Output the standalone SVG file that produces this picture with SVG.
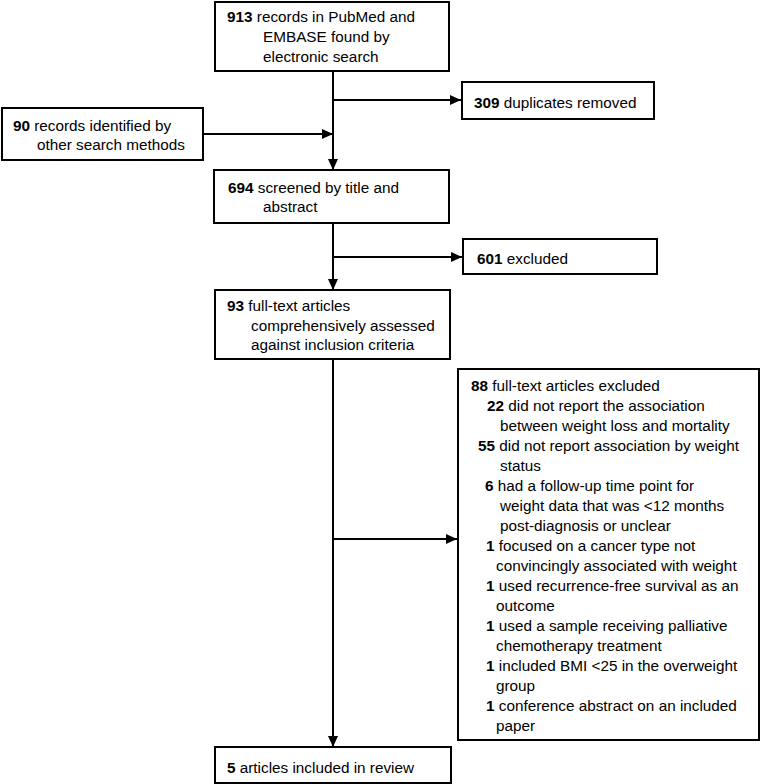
<svg xmlns="http://www.w3.org/2000/svg" width="762" height="784" viewBox="0 0 762 784">
<defs>
<style>
.box{fill:#fff;stroke:#000;stroke-width:2}
text{font-family:"Liberation Sans",Arial,sans-serif;font-size:15.3px;fill:#000}
.b{font-weight:bold}
.con{stroke:#000;stroke-width:2;fill:none}
</style>
<marker id="ah" markerUnits="userSpaceOnUse" markerWidth="12" markerHeight="10" refX="11" refY="5" orient="auto">
<path d="M0,0 L11,5 L0,10 Z" fill="#000"/>
</marker>
</defs>
<rect width="762" height="784" fill="#fff"/>
<g id="connectors">
<line class="con" x1="333" y1="71" x2="333" y2="170" marker-end="url(#ah)"/>
<line class="con" x1="333" y1="100" x2="461" y2="100" marker-end="url(#ah)"/>
<line class="con" x1="203" y1="134" x2="333" y2="134" marker-end="url(#ah)"/>
<line class="con" x1="333" y1="223" x2="333" y2="290" marker-end="url(#ah)"/>
<line class="con" x1="333" y1="257" x2="462" y2="257" marker-end="url(#ah)"/>
<line class="con" x1="333" y1="359" x2="333" y2="747" marker-end="url(#ah)"/>
<line class="con" x1="333" y1="539" x2="457" y2="539" marker-end="url(#ah)"/>
</g>
<g id="n913">
<rect class="box" x="215" y="2" width="234" height="69"/>
<text x="227" y="22"><tspan class="b">913</tspan> records in PubMed and</text>
<text x="263" y="42">EMBASE found by</text>
<text x="263" y="62">electronic search</text>
</g>
<g id="n309">
<rect class="box" x="462" y="82" width="192" height="37"/>
<text x="474" y="108"><tspan class="b">309</tspan> duplicates removed</text>
</g>
<g id="n90">
<rect class="box" x="2" y="108" width="201" height="52"/>
<text x="13" y="131"><tspan class="b">90</tspan> records identified by</text>
<text x="37" y="150">other search methods</text>
</g>
<g id="n694">
<rect class="box" x="214" y="170" width="235" height="53"/>
<text x="228" y="193"><tspan class="b">694</tspan> screened by title and</text>
<text x="263" y="212">abstract</text>
</g>
<g id="n601">
<rect class="box" x="463" y="239" width="194" height="35"/>
<text x="477" y="264"><tspan class="b">601</tspan> excluded</text>
</g>
<g id="n93">
<rect class="box" x="215" y="290" width="235" height="69"/>
<text x="227" y="311"><tspan class="b">93</tspan> full-text articles</text>
<text x="251" y="331">comprehensively assessed</text>
<text x="251" y="350">against inclusion criteria</text>
</g>
<g id="n88">
<rect class="box" x="458" y="369" width="301" height="371"/>
<text x="471" y="391"><tspan class="b">88</tspan> full-text articles excluded</text>
<text x="487" y="411"><tspan class="b">22</tspan> did not report the association</text>
<text x="500" y="431">between weight loss and mortality</text>
<text x="478" y="451"><tspan class="b">55</tspan> did not report association by weight</text>
<text x="500" y="471">status</text>
<text x="485" y="491"><tspan class="b">6</tspan> had a follow-up time point for</text>
<text x="500" y="511">weight data that was &lt;12 months</text>
<text x="500" y="531">post-diagnosis or unclear</text>
<text x="486" y="551"><tspan class="b">1</tspan> focused on a cancer type not</text>
<text x="496" y="571">convincingly associated with weight</text>
<text x="486" y="591"><tspan class="b">1</tspan> used recurrence-free survival as an</text>
<text x="496" y="611">outcome</text>
<text x="486" y="631"><tspan class="b">1</tspan> used a sample receiving palliative</text>
<text x="496" y="651">chemotherapy treatment</text>
<text x="486" y="671"><tspan class="b">1</tspan> included BMI &lt;25 in the overweight</text>
<text x="496" y="691">group</text>
<text x="486" y="711"><tspan class="b">1</tspan> conference abstract on an included</text>
<text x="496" y="731">paper</text>
</g>
<g id="n5">
<rect class="box" x="215" y="747" width="236" height="36"/>
<text x="227" y="773"><tspan class="b">5</tspan> articles included in review</text>
</g>
</svg>
